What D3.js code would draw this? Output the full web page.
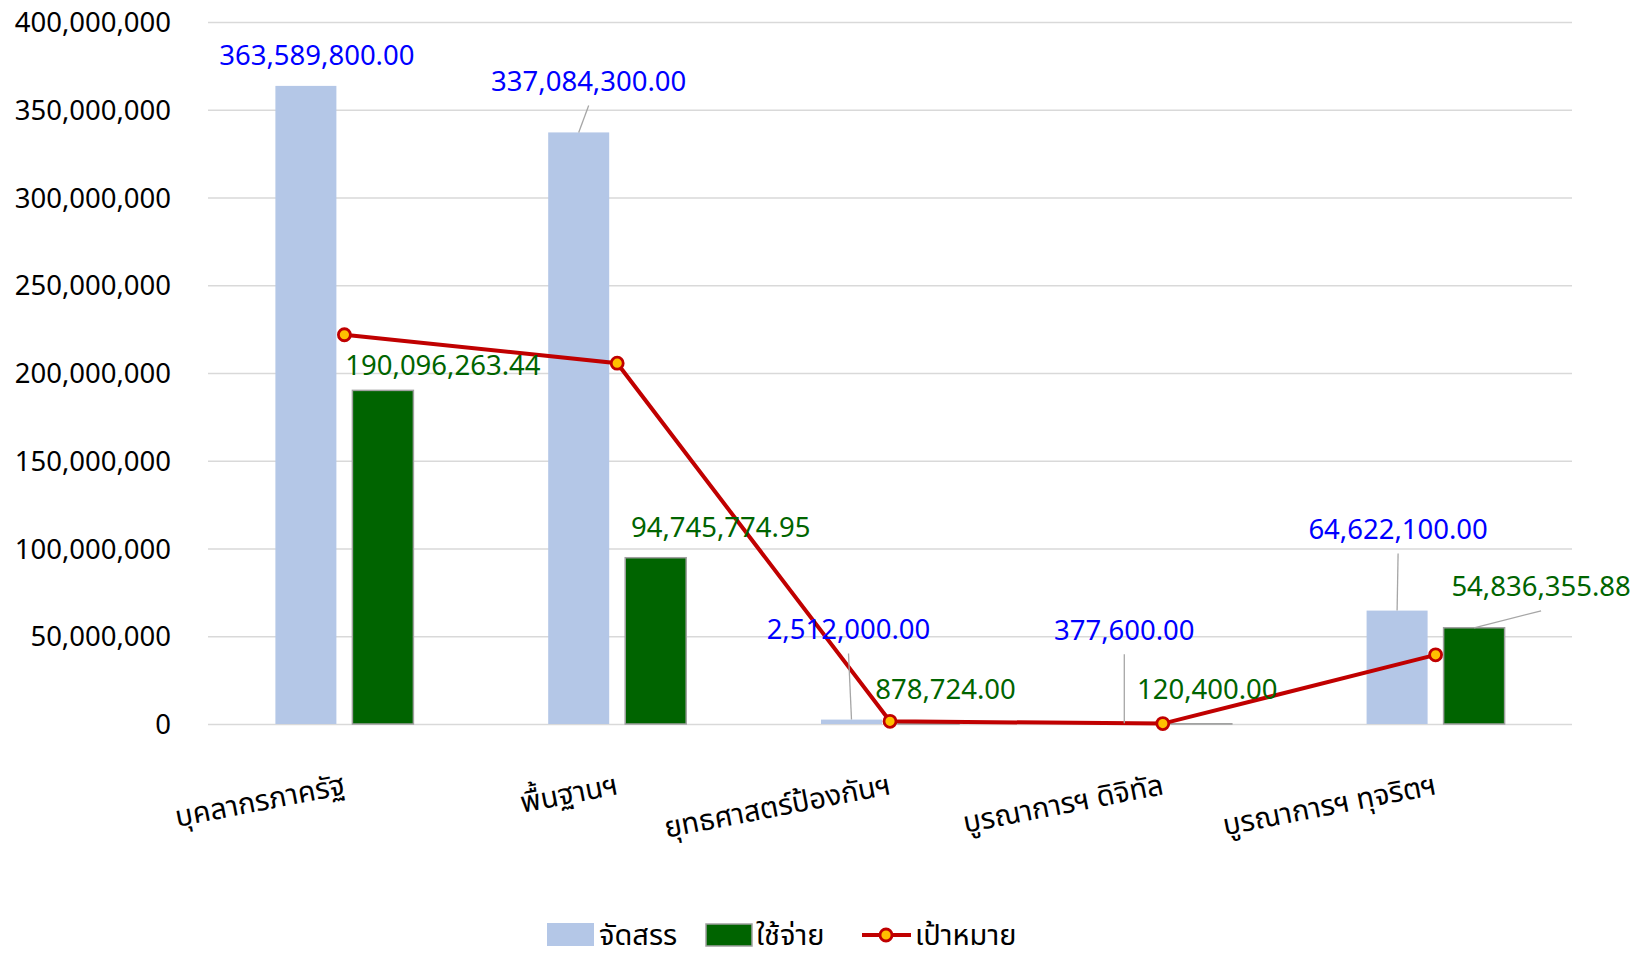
<!DOCTYPE html>
<html>
<head>
<meta charset="utf-8">
<script src="https://cdn.jsdelivr.net/npm/d3@7"></script>
<style>
  body { margin: 0; background: #fff; }
  svg text { font-family: "Tahoma", "Noto Sans Thai", "Noto Sans", "DejaVu Sans", sans-serif; }
</style>
</head>
<body>
<div id="chart"></div>
<script>
// categories and series
var categories = ["บุคลากรภาครัฐ", "พื้นฐานฯ", "ยุทธศาสตร์ป้องกันฯ", "บูรณาการฯ ดิจิทัล", "บูรณาการฯ ทุจริตฯ"];
var allocated = [363589800.00, 337084300.00, 2512000.00, 377600.00, 64622100.00];
var spent = [190096263.44, 94745774.95, 878724.00, 120400.00, 54836355.88];
var target = [221800000, 205600000, 1530000, 230000, 39400000];
var yTicks = [0, 50000000, 100000000, 150000000, 200000000, 250000000, 300000000, 350000000, 400000000];
var seriesNames = ["จัดสรร", "ใช้จ่าย", "เป้าหมาย"];

// label nudges (pixels) so the labels sit like in the original
var allocShift = [[11, -31, 0], [10, -51, 1], [-3, -90, 1], [0, -93, 1], [1, -81, 1]];
var spentShift = [[60, -25, 0], [65, -30, 0], [17, -33, 0], [6, -34, 0], [67, -41, 1]];

var W = 1636, H = 960;
var plotL = 208, plotR = 1572, plotT = 22, plotB = 724;
var blue = "#b4c7e7", green = "#006400", red = "#c00000", gold = "#ffc000";

var svg = d3.select("#chart").append("svg")
  .attr("width", W).attr("height", H);

var x = d3.scaleBand().domain(categories).range([plotL, plotR]).padding(0);
var y = d3.scaleLinear().domain([0, 400000000]).range([plotB, plotT]);
var bw = x.bandwidth();
var barW = bw * 0.2236, gap = bw * 0.0587;
function cx(d) { return x(d) + bw / 2; }

// grid + y axis
var yAxis = svg.append("g")
  .attr("transform", "translate(" + plotL + ",0)")
  .call(d3.axisLeft(y).tickValues(yTicks).tickFormat(d3.format(",")).tickSize(-(plotR - plotL)).tickPadding(37));
yAxis.select(".domain").remove();
yAxis.selectAll(".tick line").attr("stroke", "#d9d9d9").attr("stroke-width", 1.6);
yAxis.selectAll(".tick text").attr("fill", "#000").style("font-size", "27.5px").attr("dy", "0.35em");

// bars
svg.append("g").selectAll("rect").data(categories).enter().append("rect")
  .attr("x", function (d) { return cx(d) - gap / 2 - barW; })
  .attr("y", function (d, i) { return y(allocated[i]); })
  .attr("width", barW)
  .attr("height", function (d, i) { return plotB - y(allocated[i]); })
  .attr("fill", blue);

svg.append("g").selectAll("rect").data(categories).enter().append("rect")
  .attr("x", function (d) { return cx(d) + gap / 2; })
  .attr("y", function (d, i) { return y(spent[i]); })
  .attr("width", barW)
  .attr("height", function (d, i) { return plotB - y(spent[i]); })
  .attr("fill", green)
  .attr("stroke", "#a0a0a0")
  .attr("stroke-width", 1.5);

// data labels with leader lines
var fmt = d3.format(",.2f");
function addLabels(vals, shift, xoff, color) {
  var g = svg.append("g");
  vals.forEach(function (v, i) {
    var bx = cx(categories[i]) + xoff, by = y(v);
    var lx = bx + shift[i][0], ly = by + shift[i][1];
    if (shift[i][2]) {
      g.append("line")
        .attr("x1", bx).attr("y1", by)
        .attr("x2", lx).attr("y2", ly + 24)
        .attr("stroke", "#a6a6a6").attr("stroke-width", 1.3);
    }
    g.append("text")
      .attr("x", lx).attr("y", ly).attr("dy", "0.35em")
      .attr("text-anchor", "middle")
      .attr("fill", color)
      .style("font-size", "27.5px")
      .text(fmt(v));
  });
}

// target line
var line = d3.line()
  .x(function (d, i) { return cx(categories[i]); })
  .y(function (d) { return y(d); });
svg.append("path").datum(target)
  .attr("d", line)
  .attr("fill", "none")
  .attr("stroke", red)
  .attr("stroke-width", 4);
svg.append("g").selectAll("circle").data(target).enter().append("circle")
  .attr("cx", function (d, i) { return cx(categories[i]); })
  .attr("cy", function (d) { return y(d); })
  .attr("r", 6)
  .attr("fill", gold)
  .attr("stroke", red)
  .attr("stroke-width", 2.8);

addLabels(allocated, allocShift, -gap / 2 - barW / 2, "#0000ff");
addLabels(spent, spentShift, gap / 2 + barW / 2, "#006400");

// category labels, rotated
svg.append("g").selectAll("text").data(categories).enter().append("text")
  .attr("transform", function (d) { return "translate(" + (cx(d) + 2) + ",794) rotate(-11)"; })
  .attr("text-anchor", "end")
  .attr("fill", "#000")
  .style("font-size", "29px")
  .text(function (d) { return d; });

// legend
var leg = svg.append("g").attr("transform", "translate(0,-6)");
leg.append("rect").attr("x", 547).attr("y", 929).attr("width", 47).attr("height", 23).attr("fill", blue);
leg.append("text").attr("x", 599).attr("y", 951).style("font-size", "29px").text(seriesNames[0]);
leg.append("rect").attr("x", 706).attr("y", 930).attr("width", 46).attr("height", 22)
  .attr("fill", green).attr("stroke", "#a0a0a0").attr("stroke-width", 1.5);
leg.append("text").attr("x", 756).attr("y", 951).style("font-size", "29px").text(seriesNames[1]);
leg.append("line").attr("x1", 862).attr("x2", 911).attr("y1", 941).attr("y2", 941)
  .attr("stroke", red).attr("stroke-width", 4);
leg.append("circle").attr("cx", 886).attr("cy", 941).attr("r", 6)
  .attr("fill", gold).attr("stroke", red).attr("stroke-width", 2.8);
leg.append("text").attr("x", 915).attr("y", 951).style("font-size", "29px").text(seriesNames[2]);
</script>
</body>
</html>
